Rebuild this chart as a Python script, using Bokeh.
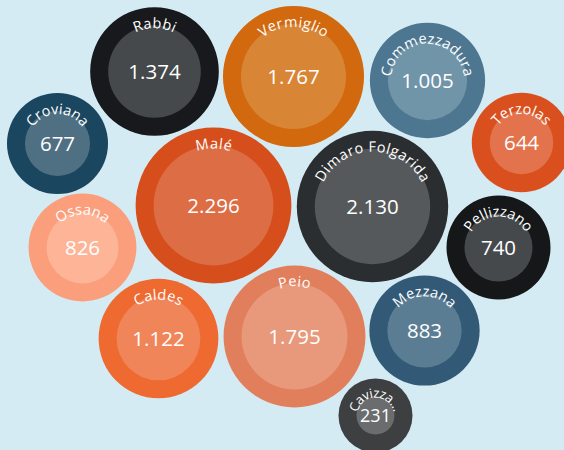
import math
from bokeh.plotting import figure
from bokeh.models import ColumnDataSource, Range1d
from bokeh.core.properties import value
from bokeh.embed import file_html
from bokeh.resources import INLINE

# ---- data ----
names = ["Rabbi", "Vermiglio", "Commezzadura", "Croviana", "Terzolas", "Malé",
         "Dimaro Folgarida", "Ossana", "Pellizzano", "Caldes", "Peio", "Mezzana",
         "Cavizzana"]
shown_names = ["Rabbi", "Vermiglio", "Commezzadura", "Croviana", "Terzolas", "Malé",
               "Dimaro Folgarida", "Ossana", "Pellizzano", "Caldes", "Peio", "Mezzana",
               "Cavizza..."]
values = [1374, 1767, 1005, 677, 644, 2296, 2130, 826, 740, 1122, 1795, 883, 231]

# packed-bubble layout (centre of each bubble, page pixels)
layout_x = [154, 293, 427, 57, 521, 213, 372, 82, 498, 158, 294, 424, 375]
layout_y = [71, 76, 80, 143, 142, 205, 206, 247, 247, 338, 336, 330, 415]

outer_colors = ["#17191c", "#d2690f", "#4d7690", "#1a4660", "#d9501e", "#d54e1c",
                "#2b2e31", "#fb9e7c", "#151719", "#ee6a31", "#e17f5d", "#325a77",
                "#3d3f41"]
inner_colors = ["#45494b", "#d98536", "#7094a8", "#4f7082", "#e3734c", "#dd6d45",
                "#56595b", "#fdb497", "#46494b", "#f1855a", "#e8997c", "#5b7d94",
                "#6a6c6e"]

BG = "#d4ebf3"
FONT = "Open Sans"
K = 1.25      # inner radius scale (px per sqrt unit)
RING = 18     # width of the label ring

# approximate Open Sans advance widths (em)
WID = {' ': 0.26, '.': 0.267,
       'A': .633, 'B': .648, 'C': .631, 'D': .729, 'E': .556, 'F': .516, 'G': .728,
       'H': .738, 'I': .279, 'J': .267, 'K': .614, 'L': .519, 'M': .903, 'N': .754,
       'O': .779, 'P': .602, 'Q': .779, 'R': .618, 'S': .549, 'T': .553, 'U': .729,
       'V': .595, 'W': .926, 'X': .577, 'Y': .56, 'Z': .571,
       'a': .561, 'b': .615, 'c': .48, 'd': .615, 'e': .564, 'f': .344, 'g': .546,
       'h': .618, 'i': .258, 'j': .258, 'k': .534, 'l': .258, 'm': .941, 'n': .618,
       'o': .605, 'p': .615, 'q': .615, 'r': .413, 's': .479, 't': .361, 'u': .618,
       'v': .5, 'w': .778, 'x': .523, 'y': .5, 'z': .468, 'é': .564}

r_in = [K * math.sqrt(v) for v in values]
r_out = [r + RING for r in r_in]
val_text = [f"{v:,}".replace(",", ".") for v in values]
val_size = [f"{min(20.5, 0.95 * r):.1f}px" for r in r_in]

W, H = 564, 450
p = figure(width=W, height=H, output_backend="svg", toolbar_location=None,
           x_range=Range1d(0, W), y_range=Range1d(H, 0),
           x_axis_type=None, y_axis_type=None, min_border=0,
           background_fill_color=BG, border_fill_color=BG, outline_line_color=None)
p.xgrid.visible = False
p.ygrid.visible = False

src = ColumnDataSource(dict(x=layout_x, y=layout_y, ro=r_out, ri=r_in,
                            oc=outer_colors, ic=inner_colors, vt=val_text, vs=val_size))
p.circle(x="x", y="y", radius="ro", fill_color="oc", line_color=None, source=src)
p.circle(x="x", y="y", radius="ri", fill_color="ic", line_color=None, source=src)
p.text(x="x", y="y", text="vt", text_font_size="vs", text_color="white",
       text_font=value(FONT), text_align="center", text_baseline="middle", source=src)

# labels curved along the top of each ring, one glyph per character
cx_, cy_, ch_, ang_, fs_ = [], [], [], [], []
for name, x0, y0, ri in zip(shown_names, layout_x, layout_y, r_in):
    fs = 14.5 if ri > 30 else 13.0
    R = ri + (2.5 if ri > 30 else 4.0)
    spacing = 1.16
    widths = [WID.get(c, 0.55) * fs * spacing for c in name]
    total = sum(widths)
    start = -total / (2 * R)
    cum = 0.0
    for c, w in zip(name, widths):
        th = start + (cum + w / 2) / R
        cum += w
        if c == ' ':
            continue
        cx_.append(x0 + R * math.sin(th))
        cy_.append(y0 - R * math.cos(th))
        ch_.append(c)
        ang_.append(-th)
        fs_.append(f"{fs:.1f}px")

lsrc = ColumnDataSource(dict(x=cx_, y=cy_, t=ch_, a=ang_, fs=fs_))
p.text(x="x", y="y", text="t", angle="a", text_font_size="fs", text_color="white",
       text_font=value(FONT), text_align="center", text_baseline="alphabetic",
       source=lsrc)

html = file_html(p, INLINE)
html = html.replace("<body>", f'<body style="background:{BG}">', 1)
html = html.replace("<html", f'<html style="background:{BG}"', 1)
open("out.html", "w").write(html)
